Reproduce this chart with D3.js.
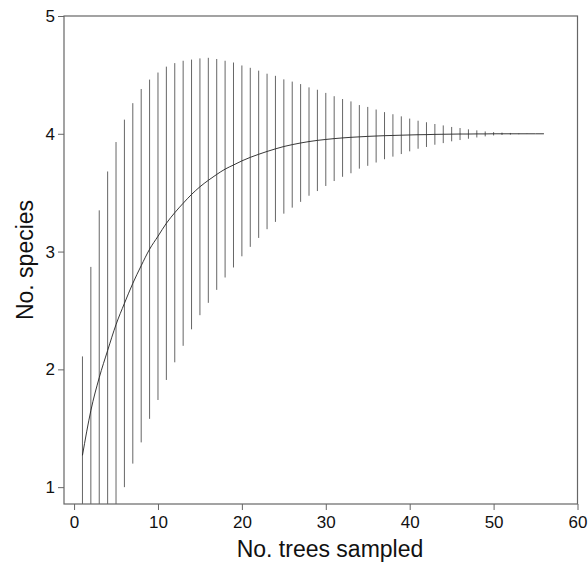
<!DOCTYPE html>
<html>
<head>
<meta charset="utf-8">
<script src="https://cdn.jsdelivr.net/npm/d3@7"></script>
<style>
body { margin: 0; background: #fff; }
text { font-family: "Liberation Sans", Arial, sans-serif; fill: #111; }
</style>
</head>
<body>
<div id="chart"></div>
<script>
// Species accumulation curve

//data
var trees = [1,2,3,4,5,6,7,8,9,10,11,12,13,14,15,16,17,18,19,20,
	21,22,23,24,25,26,27,28,29,30,31,32,33,34,35,36,37,38,39,40,
	41,42,43,44,45,46,47,48,49,50,51,52,53,54,55,56];

var meanSpecies = [1.27,1.65,1.93,2.16,2.38,2.56,2.73,2.88,3.02,3.13,
	3.24,3.33,3.41,3.485,3.55,3.605,3.655,3.70,3.735,3.77,
	3.80,3.826,3.85,3.872,3.892,3.908,3.922,3.934,3.944,3.952,
	3.959,3.965,3.97,3.974,3.978,3.981,3.984,3.986,3.988,3.99,
	3.992,3.993,3.995,3.996,3.997,3.998,3.998,3.999,3.999,4.0,
	4.0,4.0,4.0,4.0,4.0,4.0];

var sdSpecies = [0.84,1.22,1.42,1.52,1.55,1.56,1.53,1.50,1.44,1.39,
	1.33,1.27,1.21,1.145,1.09,1.04,0.98,0.92,0.87,0.81,
	0.76,0.71,0.66,0.62,0.57,0.535,0.50,0.46,0.43,0.395,
	0.36,0.33,0.305,0.27,0.25,0.225,0.20,0.18,0.16,0.139,
	0.119,0.105,0.088,0.075,0.061,0.051,0.040,0.030,0.021,0.014,
	0.010,0.007,0.004,0.002,0,0];

var xTicks = [0,10,20,30,40,50,60];
var yTicks = [1,2,3,4,5];

var points = trees.map(function(t, i) {
	return {n: t, mean: meanSpecies[i], sd: sdSpecies[i]};
});

var W = 588, H = 562;
var m = [16, 10.5, 58, 64]; //top right bottom left
var w = W - m[1] - m[3];
var h = H - m[0] - m[2];

//scales
var x = d3.scaleLinear().domain([-1.2, 60]).range([0, w]);
var y = d3.scaleLinear().domain([0.857, 5]).range([h, 0]);

var svg = d3.select("#chart").append("svg")
	.attr("width", W)
	.attr("height", H);

svg.append("defs").append("clipPath")
	.attr("id", "clip")
	.append("rect")
	.attr("width", w)
	.attr("height", h);

var g = svg.append("g")
	.attr("transform", "translate(" + m[3] + "," + m[0] + ")");

var plot = g.append("g").attr("clip-path", "url(#clip)");

// error bars (mean +/- sd)
plot.selectAll(".bar")
	.data(points.filter(function(d) { return d.sd > 0; }))
	.enter().append("line")
	.attr("class", "bar")
	.attr("x1", function(d) { return x(d.n); })
	.attr("x2", function(d) { return x(d.n); })
	.attr("y1", function(d) { return y(d.mean - d.sd); })
	.attr("y2", function(d) { return y(d.mean + d.sd); })
	.attr("stroke", "#555")
	.attr("stroke-width", 0.9);

// mean curve
plot.append("path")
	.datum(points)
	.attr("d", d3.line()
		.curve(d3.curveMonotoneX)
		.x(function(d) { return x(d.n); })
		.y(function(d) { return y(d.mean); }))
	.attr("fill", "none")
	.attr("stroke", "#222")
	.attr("stroke-width", 0.9);

// axes
var xAxis = g.append("g")
	.attr("transform", "translate(0," + h + ")")
	.call(d3.axisBottom(x).tickValues(xTicks).tickFormat(d3.format("d")).tickSize(6).tickPadding(6));

var yAxis = g.append("g")
	.call(d3.axisLeft(y).tickValues(yTicks).tickFormat(d3.format("d")).tickSize(6).tickPadding(3));

[xAxis, yAxis].forEach(function(a) {
	a.select(".domain").remove();
	a.selectAll("line").attr("stroke", "#666");
	a.selectAll("text").attr("font-size", 17).attr("fill", "#111")
		.style("font-family", "'Liberation Sans', Arial, sans-serif");
});

// frame
g.append("rect")
	.attr("width", w)
	.attr("height", h)
	.attr("fill", "none")
	.attr("stroke", "#666")
	.attr("stroke-width", 1.2);

// axis titles
svg.append("text")
	.attr("x", m[3] + x(30.5))
	.attr("y", 557)
	.attr("text-anchor", "middle")
	.attr("font-size", 23)
	.text("No. trees sampled");

svg.append("text")
	.attr("transform", "translate(33,260) rotate(-90)")
	.attr("text-anchor", "middle")
	.attr("font-size", 23)
	.text("No. species");
</script>
</body>
</html>
